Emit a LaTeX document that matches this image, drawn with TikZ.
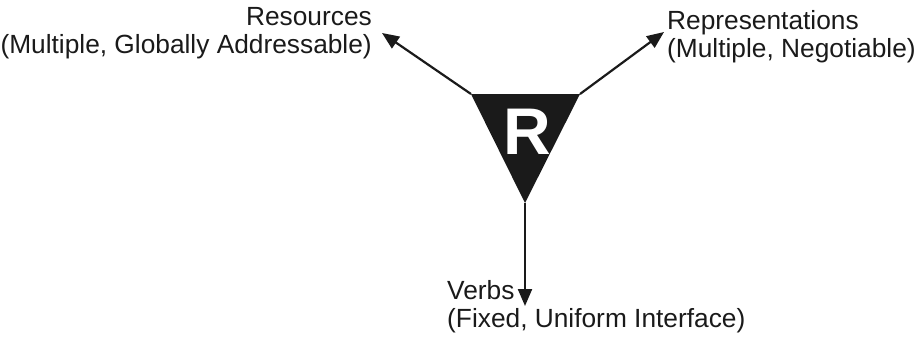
\documentclass[tikz,border=0pt]{standalone}
\usepackage{fontspec}
\setmainfont{Liberation Sans}
\usetikzlibrary{arrows.meta}
\definecolor{ink}{HTML}{1A1A1A}
\tikzset{
  label/.style={inner sep=0pt, font=\fontsize{26.3}{27.5}\selectfont, text=ink},
  conn/.style={draw=ink, line width=2.2pt, -{Triangle[length=17pt,width=14pt]}},
}
\begin{document}
\begin{tikzpicture}[x=1pt, y=-1pt]
  \useasboundingbox (0,0) rectangle (923,337);
  % the inverted triangle with its corners
  \coordinate (tl) at (471,94);
  \coordinate (tr) at (580,94);
  \coordinate (bt) at (525,203);
  \fill[ink] (tl) -- (tr) -- (bt) -- cycle;
  \node[inner sep=0pt, text=white, font=\fontsize{66}{66}\bfseries\selectfont] (r) at (527,132) {R};
  % labels (base anchor sits on the last line)
  \node[label, anchor=base east, align=right] (res) at (372,53)
    {Resources\\(Multiple, Globally Addressable)};
  \node[label, anchor=base west, align=left] (rep) at (667,57)
    {Representations\\(Multiple, Negotiable)};
  \node[label, anchor=base west, align=left] (verbs) at (447,327)
    {Verbs\\(Fixed, Uniform Interface)};
  % arrow tips
  \coordinate (resTip) at (382,33);
  \coordinate (repTip) at (664,32);
  \coordinate (verbTip) at (525,306);
  \draw[conn] (tl) -- (resTip);
  \draw[conn] (tr) -- (repTip);
  \draw[conn] (bt) -- (verbTip);
\end{tikzpicture}
\end{document}
